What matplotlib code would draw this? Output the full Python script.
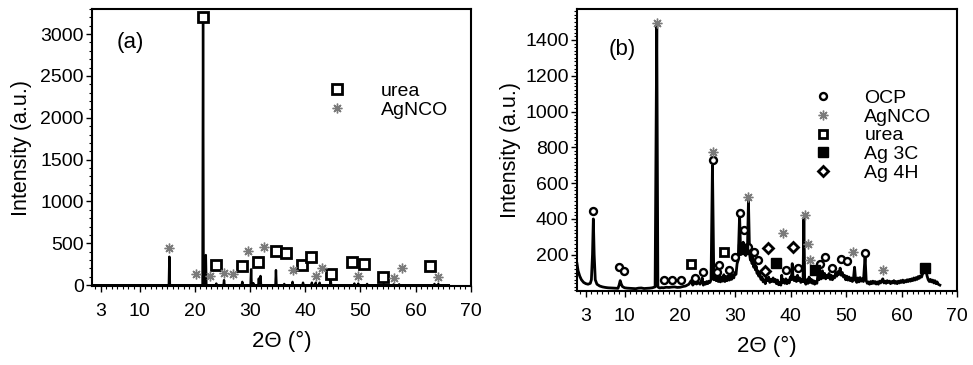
import numpy as np
import matplotlib
matplotlib.use("Agg")
import matplotlib.pyplot as plt
from matplotlib.ticker import MultipleLocator, FixedLocator

plt.rcParams['font.family'] = ['Liberation Sans', 'DejaVu Sans']

# ---------------- Panel (a) data ----------------
a_peak_x = [15.4, 21.5, 22.0, 23.9, 25.3, 28.6, 30.2, 30.6, 31.6, 31.9, 34.7, 36.2,
            37.7, 39.6, 41.2, 41.9, 42.6, 44.6, 48.9, 49.6, 51.2, 54.2, 56.0, 57.0,
            63.4, 64.1]
a_peak_y = [340, 3250, 360, 20, 60, 40, 190, 25, 80, 110, 180, 15,
            40, 30, 30, 30, 30, 70, 20, 20, 15, 15, 10, 10,
            15, 15]
a_urea_x = [21.5, 23.8, 28.6, 31.4, 34.7, 36.6, 39.5, 41.0, 44.7, 48.5, 50.7, 54.1, 62.6]
a_urea_y = [3210, 247, 231, 271, 411, 379, 247, 339, 132, 271, 259, 100, 227]
a_agnco_x = [15.3, 20.3, 22.7, 25.3, 26.9, 29.6, 32.5, 37.7, 41.9, 43.1, 49.5, 56.1, 57.5, 64.1]
a_agnco_y = [439, 132, 108, 148, 132, 411, 451, 187, 108, 207, 108, 80, 207, 100]

# ---------------- Panel (b) data ----------------
b_x = [1.4, 1.6, 1.9, 2.2, 2.6, 3.0, 3.4, 3.8, 4.0, 4.2,
       4.35, 4.5, 4.7, 5.0, 5.5, 6.0, 6.5, 7.0, 7.5, 8.0,
       8.5, 8.8, 9.0, 9.2, 9.4, 9.6, 10.0, 10.5, 11.0, 11.5,
       12.0, 12.5, 13.0, 13.5, 14.0, 14.5, 15.0, 15.5, 15.8, 16.0,
       16.3, 16.7, 17.0, 17.5, 18.0, 18.5, 19.0, 19.5, 20.0, 20.5,
       21.0, 21.3, 21.6, 22.0, 22.3, 22.6, 23.0, 23.3, 23.6, 23.8,
       24.0, 24.2, 24.4, 24.6, 24.8, 25.0, 25.2, 25.4, 25.6, 25.85,
       26.1, 26.3, 26.5, 26.7, 26.9, 27.1, 27.3, 27.5, 27.7, 27.9,
       28.1, 28.3, 28.5, 28.7, 28.9, 29.1, 29.3, 29.5, 29.7, 29.9,
       30.1, 30.3, 30.5, 30.75, 30.95, 31.1, 31.25, 31.4, 31.55, 31.7,
       31.85, 32.0, 32.15, 32.35, 32.55, 32.7, 32.85, 33.0, 33.15, 33.3,
       33.45, 33.6, 33.75, 33.9, 34.05, 34.2, 34.4, 34.6, 34.8, 35.0,
       35.2, 35.4, 35.6, 35.8, 36.0, 36.2, 36.4, 36.6, 36.8, 37.0,
       37.2, 37.4, 37.6, 37.8, 38.0, 38.2, 38.35, 38.5, 38.7, 38.9,
       39.1, 39.3, 39.5, 39.7, 39.9, 40.1, 40.25, 40.4, 40.6, 40.8,
       41.0, 41.2, 41.4, 41.6, 41.8, 42.0, 42.2, 42.35, 42.5, 42.7,
       42.9, 43.1, 43.3, 43.5, 43.7, 43.9, 44.1, 44.3, 44.5, 44.7,
       44.9, 45.1, 45.3, 45.5, 45.7, 45.9, 46.1, 46.3, 46.5, 46.7,
       46.9, 47.1, 47.3, 47.5, 47.7, 47.9, 48.1, 48.3, 48.5, 48.7,
       48.9, 49.1, 49.3, 49.5, 49.7, 49.9, 50.1, 50.3, 50.5, 50.7,
       50.9, 51.1, 51.3, 51.5, 51.7, 51.9, 52.1, 52.3, 52.5, 52.7,
       52.9, 53.1, 53.4, 53.6, 53.8, 54.0, 54.2, 54.4, 54.6, 54.8,
       55.0, 55.2, 55.4, 55.6, 55.8, 56.0, 56.2, 56.4, 56.6, 56.8,
       57.0, 57.2, 57.4, 57.6, 57.8, 58.0, 58.2, 58.4, 58.6, 58.8,
       59.0, 59.2, 59.4, 59.6, 59.8, 60.0, 60.2, 60.4, 60.6, 60.8,
       61.0, 61.2, 61.4, 61.6, 61.8, 62.0, 62.2, 62.4, 62.6, 62.8,
       63.0, 63.2, 63.4, 63.6, 63.8, 64.0, 64.2, 64.4, 64.6, 64.8,
       65.0, 65.2, 65.4, 65.6, 65.8, 66.0, 66.2, 66.4, 66.6, 66.9]
b_y = [150, 110, 80, 60, 45, 38, 35, 40, 60, 200,
       400, 200, 60, 35, 25, 20, 17, 15, 14, 13,
       12, 12, 30, 55, 35, 22, 15, 13, 12, 11,
       10, 13, 14, 11, 12, 13, 15, 20, 1480, 20,
       14, 16, 15, 18, 17, 19, 20, 17, 18, 22,
       25, 30, 35, 55, 30, 42, 36, 45, 35, 50,
       70, 30, 45, 35, 50, 38, 52, 45, 60, 700,
       60, 90, 55, 80, 50, 95, 48, 75, 52, 88,
       50, 78, 55, 82, 58, 90, 62, 85, 70, 100,
       90, 150, 170, 420, 200, 250, 215, 270, 205, 255,
       195, 240, 205, 500, 205, 170, 200, 150, 185, 130,
       160, 115, 135, 95, 110, 80, 95, 62, 75, 48,
       60, 38, 70, 55, 75, 45, 62, 50, 70, 48,
       62, 38, 58, 32, 45, 30, 85, 45, 60, 40,
       65, 38, 58, 42, 75, 60, 150, 70, 55, 75,
       50, 85, 55, 70, 45, 60, 50, 400, 50, 35,
       60, 40, 75, 45, 62, 40, 55, 35, 50, 40,
       90, 60, 80, 65, 110, 70, 95, 65, 85, 72,
       95, 62, 85, 60, 80, 70, 100, 80, 105, 90,
       125, 85, 100, 75, 85, 60, 80, 58, 75, 55,
       70, 50, 65, 130, 55, 45, 70, 48, 72, 52,
       65, 50, 190, 55, 40, 48, 35, 50, 38, 52,
       40, 50, 36, 48, 35, 52, 42, 55, 65, 42,
       52, 40, 55, 45, 52, 38, 50, 42, 55, 40,
       50, 38, 52, 42, 55, 45, 58, 44, 55, 48,
       60, 50, 62, 52, 65, 55, 70, 58, 72, 62,
       78, 68, 82, 75, 95, 100, 125, 110, 80, 60,
       50, 62, 48, 58, 42, 55, 38, 48, 35, 30]

b_ocp_x = [4.3, 8.9, 9.9, 17.1, 18.5, 20.1, 22.7, 24.1, 25.9, 26.6, 27.1, 28.8, 29.9,
           30.8, 31.6, 32.3, 33.4, 34.0, 39.2, 41.3, 45.3, 46.2, 47.5, 49.0, 50.2, 53.4]
b_ocp_y = [442, 134, 110, 56, 56, 56, 71, 103, 728, 103, 144, 112, 187,
           433, 336, 243, 215, 172, 112, 127, 146, 187, 125, 177, 162, 211]
b_agnco_x = [15.9, 26.0, 32.3, 38.6, 42.5, 43.1, 43.5, 51.3, 56.6]
b_agnco_y = [1497, 774, 522, 323, 420, 261, 172, 215, 112]
b_urea_x = [22.0, 28.0]
b_urea_y = [149, 215]
b_ag3c_x = [31.4, 37.4, 44.3, 64.2]
b_ag3c_y = [230, 153, 112, 125]
b_ag4h_x = [35.9, 35.4, 40.4]
b_ag4h_y = [239, 108, 243]

x_ticks = [3, 10, 20, 30, 40, 50, 60, 70]

fig = plt.figure(figsize=(9.73, 3.65), dpi=100)
axa = fig.add_axes([0.0946, 0.2164, 0.3894, 0.7589])
axb = fig.add_axes([0.593, 0.2027, 0.3906, 0.7726])

star = (8, 2, 0)
gray = '#7a7a7a'

def style_axes(ax, ylpad):
    for s in ax.spines.values():
        s.set_linewidth(1.5)
    ax.set_xlim(1.4, 70.0)
    ax.xaxis.set_major_locator(FixedLocator(x_ticks))
    ax.xaxis.set_minor_locator(MultipleLocator(1))
    ax.tick_params(axis='both', which='major', direction='out', length=4, width=1,
                   labelsize=14)
    ax.tick_params(axis='both', which='minor', direction='out', length=2.5, width=0.8)
    ax.tick_params(axis='x', which='major', pad=8)
    ax.tick_params(axis='y', which='major', pad=2)
    ax.set_xlabel('2Θ (°)', fontsize=16, labelpad=8)
    ax.set_ylabel('Intensity (a.u.)', fontsize=15.5, labelpad=ylpad)

# ---- Panel (a) ----
prof_x = [1.4]
prof_y = [0]
hw = 0.1
for px, py in zip(a_peak_x, a_peak_y):
    prof_x += [px - hw, px, px + hw]
    prof_y += [0, py, 0]
prof_x.append(66.0)
prof_y.append(0)
axa.plot(prof_x, prof_y, color='black', lw=1.7)
axa.plot(a_urea_x, a_urea_y, ls='none', marker='s', ms=6.5, mfc='white', mec='black',
         mew=2, label='urea')
axa.plot(a_agnco_x, a_agnco_y, ls='none', marker=star, ms=7, mec=gray, mfc=gray,
         mew=1, label='AgNCO')
axa.set_ylim(-10, 3300)
axa.yaxis.set_major_locator(MultipleLocator(500))
axa.yaxis.set_minor_locator(MultipleLocator(100))
style_axes(axa, 6)
axa.text(0.10, 0.88, '(a)', transform=axa.transAxes, fontsize=16, ha='center', va='center')
axa.legend(loc='upper left', bbox_to_anchor=(0.622, 0.735), frameon=False, fontsize=14,
           handlelength=1.0, handletextpad=1.75, labelspacing=0.05, borderpad=0,
           borderaxespad=0, numpoints=1)

# ---- Panel (b) ----
axb.plot(b_x, b_y, color='black', lw=2.0)
axb.plot(b_ocp_x, b_ocp_y, ls='none', marker='o', ms=5, mfc='white', mec='black',
         mew=1.7, label='OCP')
axb.plot(b_agnco_x, b_agnco_y, ls='none', marker=star, ms=7, mec=gray, mfc=gray,
         mew=1, label='AgNCO')
axb.plot(b_urea_x, b_urea_y, ls='none', marker='s', ms=6, mfc='white', mec='black',
         mew=2, label='urea')
axb.plot(b_ag3c_x, b_ag3c_y, ls='none', marker='s', ms=6.5, mfc='black', mec='black',
         label='Ag 3C')
axb.plot(b_ag4h_x, b_ag4h_y, ls='none', marker='D', ms=5, mfc='white', mec='black',
         mew=2, label='Ag 4H')
axb.set_ylim(-3, 1573)
axb.yaxis.set_major_locator(FixedLocator([200, 400, 600, 800, 1000, 1200, 1400]))
axb.yaxis.set_minor_locator(MultipleLocator(20))
style_axes(axb, 3)
axb.text(0.12, 0.855, '(b)', transform=axb.transAxes, fontsize=16, ha='center', va='center')
axb.legend(loc='upper left', bbox_to_anchor=(0.623, 0.714), frameon=False, fontsize=14,
           handlelength=1.0, handletextpad=1.6, labelspacing=0.05, borderpad=0,
           borderaxespad=0, numpoints=1)

fig.savefig('out.png', dpi=100)
